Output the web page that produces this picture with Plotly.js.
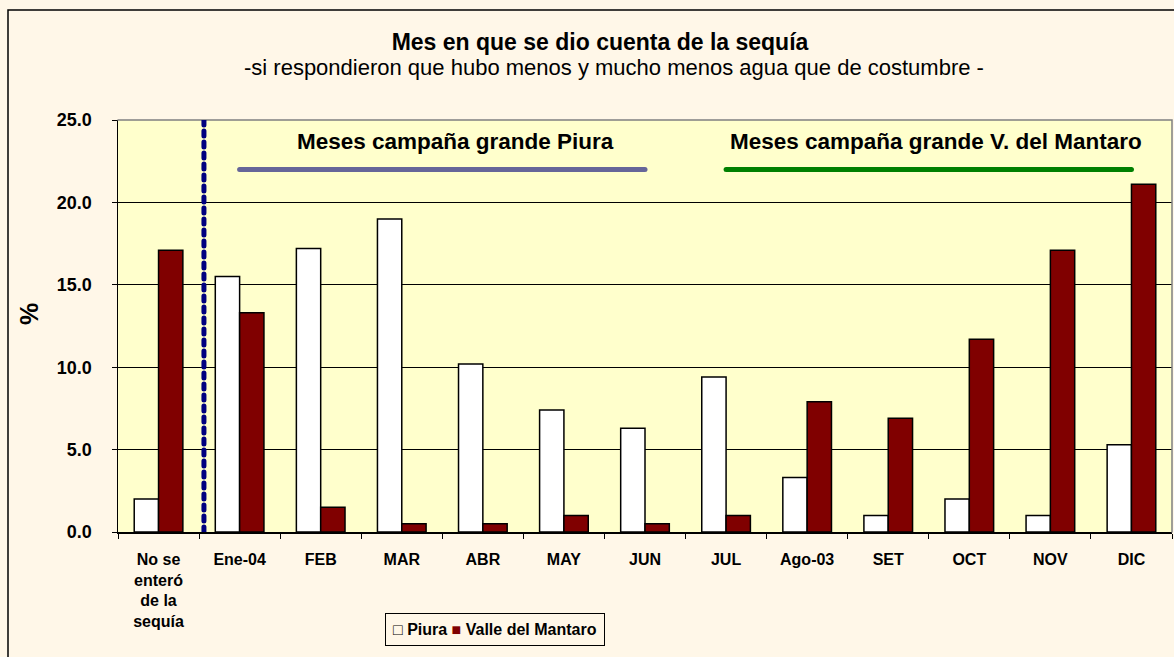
<!DOCTYPE html>
<html>
<head>
<meta charset="utf-8">
<script src="https://cdn.plot.ly/plotly-3.0.1.min.js"></script>
<style>
  html, body { margin: 0; padding: 0; background: #FFF7E8; }
  #chart { width: 1174px; height: 657px; }
  .shapelayer path { stroke-linecap: round; }
</style>
</head>
<body>
<div id="chart"></div>
<script>
// ---- data ----
const categories = ["No se<br>enteró<br>de la<br>sequía", "Ene-04", "FEB", "MAR", "ABR", "MAY", "JUN", "JUL", "Ago-03", "SET", "OCT", "NOV", "DIC"];
const piura   = [2.0, 15.5, 17.2, 19.0, 10.2, 7.4, 6.3, 9.4, 3.3, 1.0, 2.0, 1.0, 5.3];
const mantaro = [17.1, 13.3, 1.5, 0.5, 0.5, 1.0, 0.5, 1.0, 7.9, 6.9, 11.7, 17.1, 21.1];
const seriesNames = ["Piura", "Valle del Mantaro"];
const seriesColors = ["#FFFFFF", "#800000"];
const yTicks = [0, 5, 10, 15, 20, 25];

const titleText = "Mes en que se dio cuenta de la sequía";
const subtitleText = "-si respondieron que hubo menos y mucho menos agua que de costumbre -";
const campaignPiura = "Meses campaña grande Piura";
const campaignMantaro = "Meses campaña grande V. del Mantaro";
// campaign spans: first and last category index, level on the y axis
const piuraSpan = [1, 6];
const mantaroSpan = [7, 12];
const campaignLevel = 22;

const FONT = "Liberation Sans, Arial, sans-serif";
const BG = "#FFF7E8";

const traces = seriesNames.map((name, i) => ({
  type: "bar", name: name, x: categories, y: i === 0 ? piura : mantaro,
  marker: { color: seriesColors[i], line: { color: "#000000", width: 1.5 } }
}));

// compact legend (Excel style) built from the series names
const legendText =
  '<span style="color:#000000">□</span> <b>' + seriesNames[0] + '</b> ' +
  '<span style="color:' + seriesColors[1] + '">■</span> <b>' + seriesNames[1] + '</b>';

const layout = {
  width: 1174, height: 657,
  margin: { l: 118, r: 2, t: 120, b: 125 },
  paper_bgcolor: BG,
  plot_bgcolor: "#FFFFCC",
  font: { family: FONT, color: "#000000" },
  barmode: "group",
  bargap: 0.4,
  bargroupgap: 0,
  showlegend: false,
  title: {
    text: "<b>" + titleText + "</b>",
    font: { family: FONT, size: 23, color: "#000000" },
    xref: "paper", x: (600 - 118) / 1054, xanchor: "center",
    yref: "container", y: 1 - 41.5 / 657, yanchor: "middle"
  },
  xaxis: {
    type: "category",
    showline: true, linecolor: "#000000", linewidth: 1.5,
    ticks: "outside", tickson: "boundaries", ticklen: 5, tickcolor: "#000000", tickwidth: 1,
    ticklabelstandoff: 12,
    tickfont: { family: FONT, size: 16, color: "#000000", weight: "bold" },
    showgrid: false, zeroline: false
  },
  yaxis: {
    range: [0, 25],
    tickvals: yTicks,
    tickformat: ".1f",
    showline: true, linecolor: "#000000", linewidth: 1.5,
    ticks: "outside", ticklen: 5, tickcolor: "#000000", tickwidth: 1,
    ticklabelstandoff: 16,
    tickfont: { family: FONT, size: 18, color: "#000000", weight: "bold" },
    showgrid: true, gridcolor: "#000000", gridwidth: 1,
    zeroline: false
  },
  annotations: [
    {
      text: subtitleText,
      xref: "paper", x: (614 - 118) / 1054, xanchor: "center",
      yref: "paper", y: (532 - 67.5) / 412, yanchor: "middle",
      showarrow: false,
      font: { family: FONT, size: 22, color: "#000000" }
    },
    {
      text: "<b>%</b>",
      xref: "paper", x: (29 - 118) / 1054, xanchor: "center",
      yref: "paper", y: (532 - 314) / 412, yanchor: "middle",
      textangle: -90, showarrow: false,
      font: { family: FONT, size: 25, color: "#000000" }
    },
    {
      text: "<b>" + campaignPiura + "</b>",
      xref: "x", x: 3.66, yref: "y", y: 23.67,
      showarrow: false,
      font: { family: FONT, size: 22.5, color: "#000000" }
    },
    {
      text: "<b>" + campaignMantaro + "</b>",
      xref: "x", x: 9.59, yref: "y", y: 23.67,
      showarrow: false,
      font: { family: FONT, size: 22.5, color: "#000000" }
    },
    {
      text: legendText,
      xref: "paper", x: (495 - 118) / 1054, xanchor: "center",
      yref: "paper", y: (532 - 629) / 412, yanchor: "middle",
      showarrow: false,
      bgcolor: BG, bordercolor: "#000000", borderwidth: 1, borderpad: 7,
      font: { family: FONT, size: 16, color: "#000000" }
    }
  ],
  shapes: [
    // outer chart frame
    {
      type: "rect", xref: "paper", yref: "paper",
      x0: (8 - 118) / 1054, x1: 1.05, y0: -0.5, y1: (532 - 10) / 412,
      line: { color: "#000000", width: 1.5 }, fillcolor: "rgba(0,0,0,0)", layer: "below"
    },
    // grey plot-area border top and right
    {
      type: "path", xref: "paper", yref: "paper",
      path: "M 0 1 L 1 1 L 1 0",
      line: { color: "#808080", width: 1.5 }
    },
    // dotted separator
    {
      type: "line", xref: "x", yref: "y",
      x0: 0.56, x1: 0.56, y0: 0, y1: 25,
      line: { color: "#000080", width: 5, dash: "5px,6px" }
    },
    // campaign lines
    {
      type: "line", xref: "x", yref: "y",
      x0: piuraSpan[0], x1: piuraSpan[1], y0: campaignLevel, y1: campaignLevel,
      line: { color: "#666699", width: 5 }
    },
    {
      type: "line", xref: "x", yref: "y",
      x0: mantaroSpan[0], x1: mantaroSpan[1], y0: campaignLevel, y1: campaignLevel,
      line: { color: "#008000", width: 5 }
    }
  ]
};

Plotly.newPlot("chart", traces, layout, { displayModeBar: false, staticPlot: true });
</script>
</body>
</html>
